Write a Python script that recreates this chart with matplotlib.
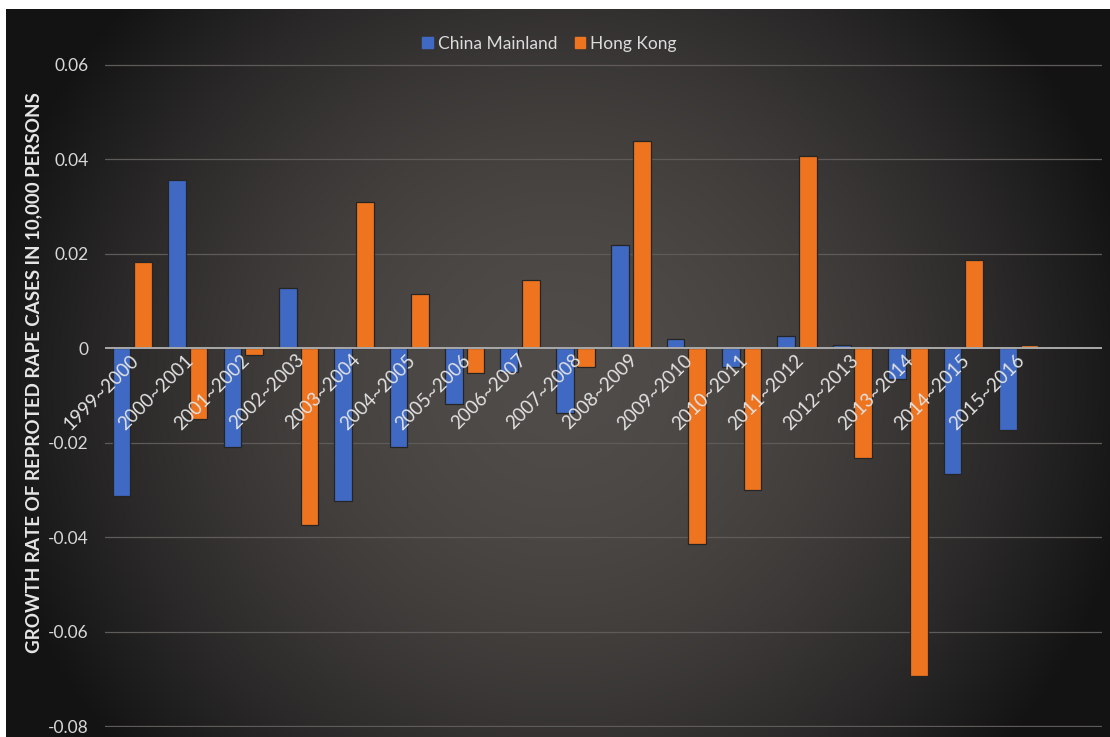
import numpy as np
import matplotlib
matplotlib.use('Agg')
import matplotlib.pyplot as plt
from matplotlib.patches import Patch
import matplotlib.transforms as mtransforms

plt.rcParams['font.family'] = ['Lato', 'DejaVu Sans']

# growth rate of reported cases per 10,000 persons, year over year
periods = ['1999~2000', '2000~2001', '2001~2002', '2002~2003', '2003~2004',
           '2004~2005', '2005~2006', '2006~2007', '2007~2008', '2008~2009',
           '2009~2010', '2010~2011', '2011~2012', '2012~2013', '2013~2014',
           '2014~2015', '2015~2016']
china_mainland = [-0.0312, 0.0356, -0.0209, 0.0128, -0.0323, -0.0209, -0.0119,
                  -0.0050, -0.0137, 0.0218, 0.0020, -0.0040, 0.0025, 0.0006,
                  -0.0065, -0.0266, -0.0174]
hong_kong = [0.0183, -0.0149, -0.0014, -0.0374, 0.0309, 0.0116, -0.0053,
             0.0144, -0.0040, 0.0439, -0.0415, -0.0300, 0.0407, -0.0233,
             -0.0693, 0.0186, 0.0006]
yticks = [0.06, 0.04, 0.02, 0, -0.02, -0.04, -0.06, -0.08]

W, H = 1110, 737
fig = plt.figure(figsize=(W / 100, H / 100), dpi=100, facecolor='white')

# dark radial backdrop
bg = fig.add_axes([0, 0, 1, 1], zorder=0)
bg.set_axis_off()
yy, xx = np.mgrid[0:H, 0:W]
d = np.sqrt(((xx - 560) / 580.0) ** 2 + ((yy - 380) / 560.0) ** 2)
t = np.clip(d, 0, 1) ** 1.8
center = np.array([80, 76, 73]) / 255.0
edge = np.array([20, 20, 21]) / 255.0
img = center[None, None, :] * (1 - t[..., None]) + edge[None, None, :] * t[..., None]
img[:9, :, :] = 1.0
img[:, :6, :] = 1.0
bg.imshow(img, extent=(0, 1, 0, 1), aspect='auto', origin='upper')
bg.set_xlim(0, 1)
bg.set_ylim(0, 1)

ax = fig.add_axes([105 / W, 1 - 727 / H, (1102 - 105) / W, (727 - 64) / H], zorder=1)
ax.set_facecolor('none')

x = np.arange(len(periods))
bw = 0.32
ax.bar(x - 0.2, china_mainland, bw, color='#3f69c2', edgecolor='#252525',
       linewidth=0.9, zorder=3)
ax.bar(x + 0.19, hong_kong, bw, color='#ee741f', edgecolor='#252525',
       linewidth=0.9, zorder=3)

ax.set_xlim(-0.5, 17.5)
ax.set_ylim(-0.0802, 0.0602)
ax.set_yticks(yticks)
ax.set_yticklabels(['0.06', '0.04', '0.02', '0', '-0.02', '-0.04', '-0.06', '-0.08'])
ax.tick_params(axis='y', length=0, pad=12, labelsize=12.5, labelcolor='#d8d8d8')
ax.set_xticks([])
for s in ax.spines.values():
    s.set_visible(False)

for v in yticks:
    if v != 0:
        ax.axhline(v, color='#5e5b59', lw=0.9, zorder=1)
ax.axhline(0, color='#a9a9a9', lw=1.4, zorder=4)

# rotated category labels just under the zero line
off = mtransforms.offset_copy(ax.transData, fig=fig, x=3, y=-9, units='dots')
for i, lab in enumerate(periods):
    ax.text(i, 0, lab, rotation=45, ha='right', va='center',
            rotation_mode='anchor', transform=off, fontsize=13.5,
            color='#e2e2e2', zorder=5)

ax.set_ylabel('GROWTH RATE OF REPROTED RAPE CASES IN 10,000 PERSONS',
              fontsize=13.5, fontweight='bold', color='#e6e6e6', va='center')
ax.yaxis.set_label_coords((34 - 105) / 997, 0.535)

handles = [Patch(color='#3f69c2', label='China Mainland'),
           Patch(color='#ee741f', label='Hong Kong')]
fig.legend(handles=handles, loc='center', bbox_to_anchor=(0.495, 1 - 44 / H),
           ncol=2, frameon=False, fontsize=12.5, labelcolor='#dcdcdc',
           handlelength=0.6, handleheight=0.6, handletextpad=0.3,
           columnspacing=1.0)

fig.savefig('out.png', dpi=100, facecolor='white')
